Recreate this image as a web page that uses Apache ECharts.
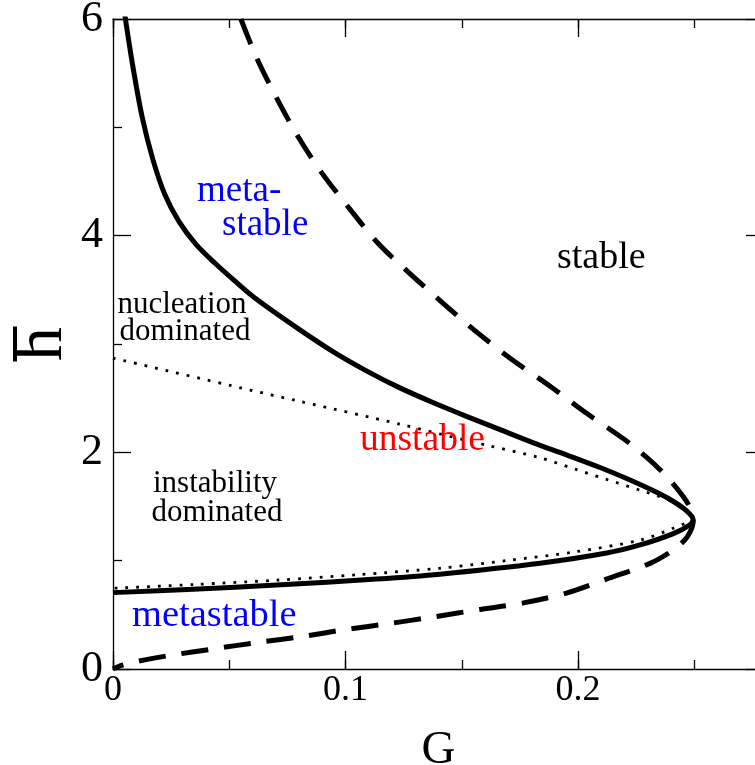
<!DOCTYPE html>
<html>
<head>
<meta charset="utf-8">
<script src="https://cdn.jsdelivr.net/npm/echarts@6/dist/echarts.min.js"></script>
<style>html,body{margin:0;padding:0;background:#fff;}#c{width:755px;height:765px;}</style>
</head>
<body>
<div id="c"></div>
<script>
// ---- data (G, h) ----
const spinodalUpper = [[0.0050,6.05],[0.0084,5.58],[0.0125,5.10],[0.0172,4.70],[0.0224,4.375],[0.0284,4.13],[0.0357,3.92],[0.0439,3.745],[0.0525,3.58],[0.0619,3.41],[0.0804,3.13],[0.0946,2.93],[0.1092,2.75],[0.1234,2.595],[0.1376,2.46],[0.1523,2.33],[0.1665,2.21],[0.1806,2.09],[0.1953,1.975],[0.2095,1.86],[0.2224,1.745],[0.2325,1.645],[0.2400,1.56],[0.2467,1.46],[0.2495,1.38]];
const spinodalLower = [[0.2495,1.38],[0.2480,1.33],[0.2410,1.25],[0.2267,1.145],[0.2123,1.07],[0.1837,0.976],[0.1406,0.875],[0.1134,0.83],[0.0704,0.775],[0.0345,0.736],[0.0,0.705]];
const binodalUpper = [[0.0550,6.00],[0.0618,5.64],[0.0704,5.27],[0.0797,4.91],[0.0898,4.58],[0.1017,4.25],[0.1140,3.93],[0.1277,3.65],[0.1420,3.376],[0.1570,3.10],[0.1720,2.85],[0.1880,2.61],[0.2037,2.36],[0.2224,2.08],[0.2353,1.84],[0.2450,1.60],[0.2489,1.46],[0.2496,1.375]];
const binodalLower = [[0.2496,1.375],[0.2470,1.22],[0.2410,1.10],[0.2310,0.975],[0.2135,0.84],[0.1950,0.70],[0.1765,0.61],[0.1580,0.55],[0.1385,0.483],[0.1190,0.42],[0.1005,0.366],[0.0815,0.30],[0.0625,0.246],[0.0430,0.185],[0.0238,0.123],[0.0102,0.07],[0.0040,0.035],[0.0,0.0]];
const dottedUpper = [[0.0,2.87],[0.0590,2.575],[0.0804,2.47],[0.1234,2.26],[0.1520,2.11],[0.1620,2.06],[0.1837,1.95],[0.1980,1.85],[0.2123,1.75],[0.2267,1.65],[0.2410,1.54],[0.2495,1.40]];
const dottedLower = [[0.2495,1.40],[0.2410,1.30],[0.2267,1.19],[0.1983,1.08],[0.1690,1.00],[0.1406,0.93],[0.1050,0.87],[0.0704,0.82],[0.0350,0.78],[0.0,0.745]];
const xTicks = [0, 0.1, 0.2];
const xTickLabels = ['0', '0.1', '0.2'];
const yTicks = [0, 2, 4, 6];
const yTickLabels = ['0', '2', '4', '6'];

const FONT = 'Liberation Serif';
const axisLineStyle = { color: '#000', width: 1.3 };

function labelFor(ticks, labels) {
  return function (v) {
    for (let i = 0; i < ticks.length; i++) if (Math.abs(v - ticks[i]) < 1e-9) return labels[i];
    return '';
  };
}

function xAxisDef(pos, interval, len, labels) {
  return {
    type: 'value', min: 0, max: 0.28, interval: interval, position: pos,
    axisLine: { show: len > 10, onZero: false, lineStyle: axisLineStyle },
    axisTick: { show: true, inside: true, length: len, lineStyle: axisLineStyle },
    axisLabel: labels ? { show: true, formatter: labelFor(xTicks, xTickLabels), fontFamily: FONT, fontSize: 36, lineHeight: 30, color: '#000', margin: 7 } : { show: false },
    splitLine: { show: false }
  };
}

const chart = echarts.init(document.getElementById('c'), null, { renderer: 'canvas' });
const xMain = xAxisDef('bottom', 0.1, 18, true);
xMain.name = 'G';
xMain.nameLocation = 'middle';
xMain.nameGap = 58;
xMain.nameMoveOverlap = false;
xMain.nameTextStyle = { fontFamily: FONT, fontSize: 47, color: '#000' };

const yMain = {
  type: 'value', min: 0, max: 6, interval: 2, position: 'left',
  axisLine: { show: true, onZero: false, lineStyle: axisLineStyle },
  axisTick: { show: true, inside: true, length: 18, lineStyle: axisLineStyle },
  minorTick: { show: true, splitNumber: 2, length: 9, lineStyle: axisLineStyle },
  axisLabel: { formatter: labelFor(yTicks, yTickLabels), fontFamily: FONT, fontSize: 44, color: '#000', margin: 10 },
  splitLine: { show: false }, minorSplitLine: { show: false },
  name: '{bar| }\n{h|h}', nameLocation: 'middle', nameRotate: 90, nameGap: 44, nameMoveOverlap: false,
  nameTextStyle: {
    rich: {
      bar: { width: 35, height: 4, lineHeight: 4, fontSize: 4, backgroundColor: '#000', align: 'center' },
      h: { fontFamily: FONT, fontSize: 68, lineHeight: 52, color: '#000', align: 'center' }
    }
  }
};
const yRight = {
  type: 'value', min: 0, max: 6, interval: 2, position: 'right',
  axisLine: { show: true, onZero: false, lineStyle: axisLineStyle },
  axisTick: { show: true, inside: true, length: 18, lineStyle: axisLineStyle },
  minorTick: { show: true, splitNumber: 2, length: 9, lineStyle: axisLineStyle },
  axisLabel: { show: false }, splitLine: { show: false }, minorSplitLine: { show: false }
};

function line(data, style, z) {
  return { type: 'line', data: data, xAxisIndex: 0, yAxisIndex: 0, showSymbol: false, symbol: 'none', smooth: 0.3, clip: true, z: z, lineStyle: style, silent: true, animation: false };
}
const solid = { color: '#000', width: 5, type: 'solid', cap: 'butt', join: 'round' };
const dashed = { color: '#000', width: 5, type: [27, 16], cap: 'butt' };
const dotted = { color: '#000', width: 2.8, type: [2.8, 8], cap: 'butt' };

function txt(x, y, text, size, color, align) {
  return { type: 'text', x: x, y: y, z: 100, style: { text: text, font: size + 'px "' + FONT + '"', fill: color, textAlign: align || 'left', textVerticalAlign: 'middle' } };
}

chart.setOption({
  animation: false,
  backgroundColor: '#fff',
  grid: { left: 113, top: 19, right: -9, bottom: 96, containLabel: false, outerBoundsMode: 'none' },
  xAxis: [xMain, xAxisDef('bottom', 0.05, 9, false), xAxisDef('top', 0.1, 18, false), xAxisDef('top', 0.05, 9, false)],
  yAxis: [yMain, yRight],
  series: [
    line(binodalUpper.concat(binodalLower.slice(1)), dashed, 2),
    line(spinodalUpper.concat(spinodalLower.slice(1)), solid, 3),
    line(dottedUpper.concat(dottedLower.slice(1)), dotted, 4)
  ],
  graphic: [
    txt(197, 191, 'meta-', 37, '#0000ff'),
    txt(222, 225, 'stable', 37, '#0000ff'),
    txt(557, 258, 'stable', 38, '#000'),
    txt(182, 305, 'nucleation', 31, '#000', 'center'),
    txt(185, 332, 'dominated', 31, '#000', 'center'),
    txt(215, 484, 'instability', 31, '#000', 'center'),
    txt(217, 513, 'dominated', 31, '#000', 'center'),
    txt(360, 440, 'unstable', 37.5, '#ff0000'),
    txt(132, 616, 'metastable', 38.5, '#0000ff')
  ]
});
</script>
</body>
</html>
